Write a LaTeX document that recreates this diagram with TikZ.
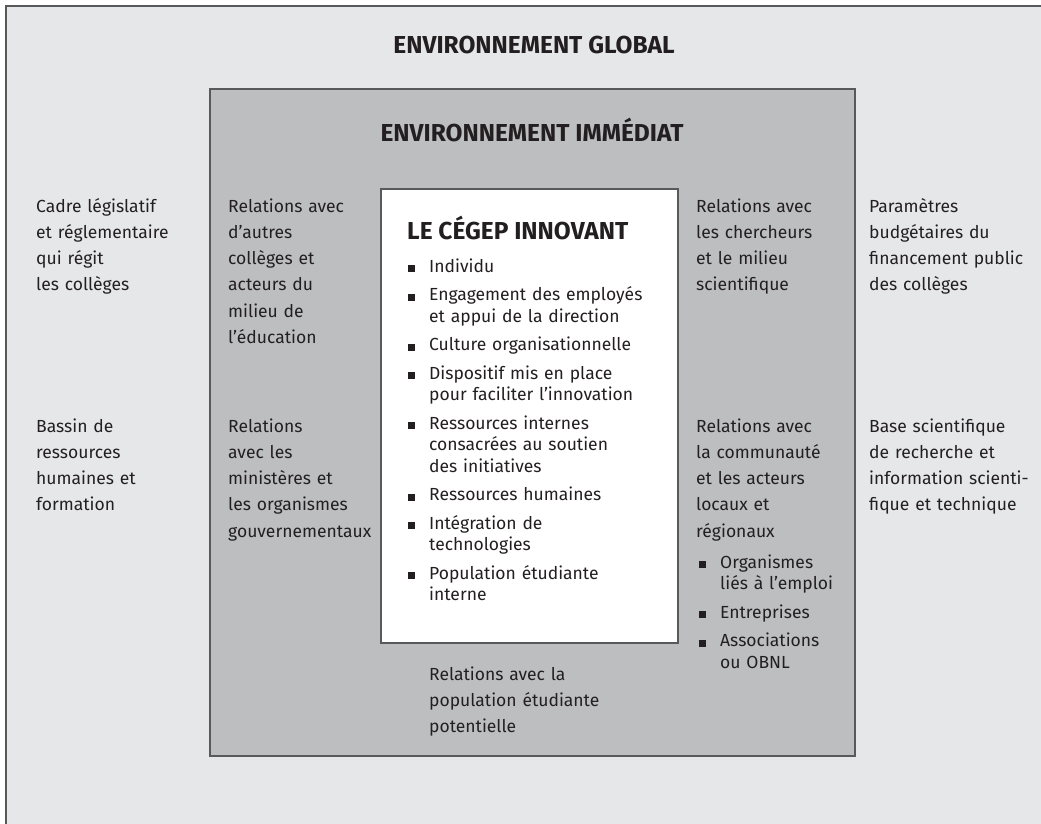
\documentclass[tikz,border=0pt]{standalone}
\usepackage{fontspec}
\setmainfont{Fira Sans}
\usetikzlibrary{positioning}
\definecolor{fondglobal}{HTML}{E6E7E8}
\definecolor{fondimmediat}{HTML}{BCBEC0}
\definecolor{trait}{HTML}{58595B}
\definecolor{encre}{HTML}{231F20}
\newcommand{\carre}{\makebox[0pt][r]{\rule{7pt}{7pt}\hspace{14pt}}}

\begin{document}
\begin{tikzpicture}[x=1pt, y=-1pt,
		zone/.style={draw=trait, line width=1.5pt},
		titre/.style={font=\fontsize{24.5}{28}\selectfont\bfseries, text=encre, inner sep=0pt},
		txt/.style={font=\fontsize{17.5}{26.3}\selectfont, text=encre, align=left, anchor=base west, inner sep=0pt, text width=175pt},
		liste/.style={font=\fontsize{17.5}{21.5}\selectfont, text=encre, align=left, anchor=base west, inner sep=0pt, text width=250pt}]
		\clip (0,0) rectangle (1041,823);
		\fill [white] (0,0) rectangle (1041,823);
		\draw [zone, fill=fondglobal, line width=2pt] (6,6) rectangle (1060,840);
		\draw [zone, fill=fondimmediat] (210,89) rectangle (855,756);
		\draw [zone, fill=white] (381,189) rectangle (678,643);

		\node [titre] (global) at (534,45) {ENVIRONNEMENT GLOBAL};
		\node [titre] (immediat) at (532,130) {ENVIRONNEMENT IMMÉDIAT};
		\node [titre, anchor=west] (cegep) at (407,228) {LE CÉGEP INNOVANT};

		\node [liste] (composantes) at (429,272) {\carre Individu\\[7pt]
			\carre Engagement des employés\\et appui de la direction\\[7pt]
			\carre Culture organisationnelle\\[7pt]
			\carre Dispositif mis en place\\pour faciliter l’innovation\\[7pt]
			\carre Ressources internes\\consacrées au soutien\\des initiatives\\[7pt]
			\carre Ressources humaines\\[7pt]
			\carre Intégration de\\technologies\\[7pt]
			\carre Population étudiante\\interne};

		\node [txt] (cadre) at (36,212) {Cadre législatif\\et réglementaire\\qui régit\\les collèges};
		\node [txt] (bassin) at (36,432) {Bassin de\\ressources\\humaines et\\formation};
		\node [txt] (colleges) at (228,212) {Relations avec\\d’autres\\collèges et\\acteurs du\\milieu de\\l’éducation};
		\node [txt] (ministeres) at (228,432) {Relations\\avec les\\ministères et\\les organismes\\gouvernementaux};
		\node [txt] (chercheurs) at (696,212) {Relations avec\\les chercheurs\\et le milieu\\scientifique};
		\node [txt] (communaute) at (696,432) {Relations avec\\la communauté\\et les acteurs\\locaux et\\régionaux};
		\node [liste, text width=130pt] (acteurs) at (720,568) {\carre Organismes\\liés à l’emploi\\[7pt]
			\carre Entreprises\\[7pt]
			\carre Associations\\ou OBNL};
		\node [txt] (budget) at (869,212) {Paramètres\\budgétaires du\\financement public\\des collèges};
		\node [txt] (recherche) at (869,432) {Base scientifique\\de recherche et\\information scienti-\\fique et technique};
		\node [txt] (etudiants) at (429,680) {Relations avec la\\population étudiante\\potentielle};
	\end{tikzpicture}
\end{document}
